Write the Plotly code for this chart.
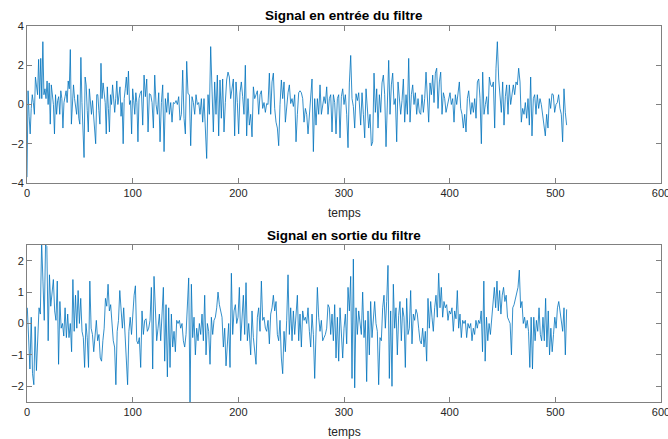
import numpy as np
import plotly.graph_objects as go

# ---- Input signal (top) in 5 consecutive time segments ----
top_seg_start = [0, 107, 211.7, 315.8, 419.9]
top_seg_end = [106, 210.4, 313.9, 418.0, 510.7]
top_seg1 = [-3.7, 0.7, -0.6, -1.5, -0.2, 0.5, 0.1, -0.5, 1.4, 0.9,
            0.5, 2.3, 0.3, 2.35, 0.3, 3.2, 0.5, 0.8, 0.3, 1.2,
            0, 1.1, -1.0, 1.0, 0.4, 0, -1.5, 0.5, -0.5, 0.2,
            0.4, -0.5, 0.7, 0.3, -1.2, 0.1, 0.4, 0.7, 0.1, 1.2,
            0.8, 2.8, -1.0, 0.5, 1.0, 0.3, -0.2, -0.5, 0.5, -0.7,
            -1.0, 2.4, 0.1, -1.0, -2.7, 1.4, 1.0, -0.3, -1.4, 0.8,
            0.1, -0.5, 0.2, -0.4, -1.2, -2.0, 0.5, 0.5, -0.3, -1.0,
            2.1, 0.3, 1.1, 0.5, 0.1, -1.5, 0.9, -0.2, -1.4, 0.5,
            0, 1.0, 0.2, -0.4, 0.3, 1.2, 0.0, 0.4, 0.9, -0.6,
            0.1, -2.0, 0.3, 0.8, 1.4, 0.5, 1.7, 0, 0.2, -1.5,
            0.8, 0.2, -0.5, 0.6, 0.1, -1.9, 0.3]
top_seg2 = [0.55, 0.7, -1.05, 1.5, 0.4, 1.3, -1.4, 0.55, 0.5, 0.1,
            -1.2, 1.5, 0, -0.5, 0.6, -1.9, 0.1, 1.0, -2.4, 0.3,
            -0.4, 0.6, -0.5, 0.1, -0.9, 0.1, 0.05, 0.2, 0, 0.4,
            -0.8, -0.5, 1.75, -0.7, -1.5, 2.2, 0.55, 0.5, -2.1, 0.4,
            0.1, -0.5, 0.5, 0, 0.1, -0.5, 0.3, -0.9, 0.3, -1.6,
            -2.75, 0.5, -0.5, 2.95, 0.1, -1.4, 1.15, -0.5, 1.5, -1.6,
            1.25, -0.7, 1.3, -1.4, 0.1, 1.25, 1.65, 1.4, 0.3, 0.8,
            1.3, -1.6, 1.15, 0.1, -1.5, 0.6, 1.15, 0.4, -0.5, 2.0,
            -1.6, 0.3, -1.05]
top_seg3 = [-0.5, -1.65, 0.9, 0.3, 0.5, 0.7, -0.5, 0.5, 0.7, -0.2,
            0.1, -0.4, 0.05, 0, 1.6, -0.5, 1.15, 1.6, -0.2, -0.9,
            -1.2, -2.1, 0, 1.25, 0.3, 1.15, -0.9, 0.1, 0.6, 1.0,
            0.05, 0.3, -0.1, 0.5, -1.9, -0.5, 0.6, 0.7, 0.6, 0.3,
            -0.9, -0.2, -0.5, -1.5, -0.5, 0, 1.3, -2.4, 0.3, -1.05,
            0.3, -0.5, 1.0, -0.5, 0.1, 0.4, 0.05, 0.9, -0.5, 0.3,
            0.5, -1.4, 0.5, 0.1, -1.5, 0.3, 0.5, -1.7, 0.4, 0.8,
            0, 0.5, -0.5, -2.2, 1.1, 2.5, 0.3, -0.1, -1.2, 0.55,
            0.2, 0.6]
top_seg4 = [-1.05, 0.6, -0.5, -1.7, 0.8, -0.2, -1.2, -0.5, -2.1, -1.9,
            1.6, -0.4, 0.8, -1.2, 0.5, -0.4, 1.1, 1.5, 0.5, -2.15,
            0.1, 2.25, -0.5, 1.0, 1.6, 0, 0.3, -1.9, 1.15, 0.1,
            -0.5, 0.2, 1.3, -0.9, 0.5, -0.5, 2.35, -0.9, 0.5, 1.0,
            0, 0.6, -0.5, 0.3, -0.4, -0.5, 0.5, -0.4, 0.3, 1.65,
            0.05, -0.9, 1.1, 0.5, 1.5, 0.1, 1.6, 1.85, -0.2, 1.15,
            1.65, -0.5, 0.6, 0.3, -0.4, 0, 0.4, 0.6, 0, 0.3,
            -0.9, 0.5, 0, 0.6, 1.15, -0.2, -0.5, -1.2, -0.5, -1.4,
            0.3, 0.7]
top_seg5 = [-0.5, 0.1, -0.4, 0.3, -0.7, 1.15, 1.3, 0.3, -2.0, 1.65,
            -0.5, 0, 0.4, -0.5, 1.4, 1.0, 0.9, 1.15, -1.2, 1.85,
            3.2, 1.3, 0.5, -0.4, 1.15, -1.05, 0.4, 1.0, -0.5, 1.0,
            0, 0.6, 1.0, 0.5, 1.15, 1.0, 1.85, 1.15, -0.9, -0.2,
            -0.5, 0.1, -0.7, 0.3, -1.05, 1.4, -1.6, 0.3, 0.5, -0.5,
            0.5, -0.2, 0.3, 0, -0.5, -0.9, -1.6, -0.5, -1.2, 0.3,
            -0.2, 0.55, 0.5, -0.4, 0, 0.1, 0.5, -0.2, -0.5, -1.9,
            0.8, -0.4, -1.05]

# ---- Filtered signal (bottom) ----
bot_seg_start = [0.3, 107.6, 211.7, 316.4, 419.9]
bot_seg_end = [106.3, 209.8, 313.9, 418.6, 510.7]
bot_seg1 = [0.5, -0.35, -1.45, 0.2, -1.6, -1.95, -0.1, -1.5, -0.35, 0.5,
            0.3, 2.6, 1.35, 0.1, 2.5, 2.45, -0.55, 1.55, 0.55, 0.9,
            1.4, 0.4, 0.1, 1.35, -1.3, 0.7, -0.15, 0, -0.4, 0.5,
            -0.45, 0.3, -0.45, 0, -0.9, 1.4, -0.25, 0.9, -0.15, 1.05,
            0, 0.8, -0.25, -0.45, -1.4, 0, -0.45, -1.4, 1.35, -0.15,
            -0.35, -0.9, -0.25, 0.1, -0.55, -0.35, -1.1, -1.2, -0.55, -0.15,
            0.8, 0.55, 1.25, 0.4, 0.6, 0, -0.55, -0.75, -1.95, -0.25,
            0.1, 1.05, 0.5, -0.15, 0.5, -0.45, -1.1, -1.95, -0.25, 0.2,
            -0.35, 0.5, 0.9, 1.2, -0.55, -0.65, -0.45]
bot_seg2 = [-1.4, 0.4, -0.35, 0.1, 0.15, -0.25, -0.15, 0.1, 1.15, -1.45,
            1.5, 0.1, -0.55, -0.15, 0.3, -0.55, 0.2, 1.15, -1.2, 0.6,
            -1.7, 0.5, -1.4, 0.3, -0.75, -0.25, -0.9, 0.1, 0, 0.1,
            -0.15, 0, -0.55, -0.75, -0.35, 0.5, 1.45, -2.6, 1.25, -0.45,
            0.2, -1.0, -0.15, -0.55, 0, -0.35, 0.3, -0.55, 0.9, -1.0,
            0, -0.25, -1.3, 0.2, -0.35, 0.1, 0.2, 0.5, 1.0, 0.6,
            0.4, 0.2, -0.75, -0.15, -1.35, -0.55, 0, -1.4, 1.6, -0.35,
            0.4, 0.6, 0, 0.2, 1.15, -0.55, 0.4, 0.9, -0.35, 1.3,
            -0.55, 0]
bot_seg3 = [-1.0, 0.4, -0.45, -1.0, -1.3, 0.2, 0.5, -0.25, 1.35, 0.1,
            0.2, -0.15, -0.25, 0.1, -0.65, 0.3, 0.5, 0.9, 0.4, 0.7,
            -0.35, -0.55, 0.1, -1.1, -1.6, -0.25, -0.9, 0.1, 1.55, -0.35,
            0.5, -0.55, 0.4, -0.35, 0.2, 0.9, -0.55, 0.3, -0.75, 0.4,
            0.1, 0.2, 0, 0.5, -0.25, -0.75, 0.3, -0.35, -1.75, 0.2,
            1.15, 0.2, -0.25, 0.1, -0.55, -0.45, -0.35, -0.15, 0.6, 0.5,
            -0.35, 0.3, -0.55, 0.6, -1.1, 0.2, -1.2, 0.5, -0.25, -1.1,
            -0.15, 0.3, -0.65, 1.15, 0.4, 1.5, -1.75, 2.05, -2.05, 0.5,
            -0.35, 0.4]
bot_seg4 = [-0.35, 1.0, -0.45, 0.1, -1.85, 0.4, -1.0, 0.7, -0.45, 0.2,
            0.7, 0, -0.25, -1.95, -0.45, -0.55, 0.5, 0.9, -0.15, 0.7,
            1.85, -1.75, 0.4, -2.0, 1.25, -0.15, 0.5, -1.0, 0.25, 0.7,
            -0.55, 0.5, 0.2, -1.4, 0.8, -0.35, -0.15, 1.05, -0.65, 0.3,
            0.1, 0.45, 0.3, -0.15, -0.55, -0.65, -0.15, -0.75, -0.25, -1.2,
            0.8, -0.15, 0.7, 0.2, -0.25, 0.5, 0.9, 0.2, 1.6, 0.5,
            1.15, 0.2, 0.7, 0.5, 0.6, 0.1, 0.4, 0.3, 0.5, -0.25,
            0.4, 0.15, 1.05, -0.15, 0.3, -0.45, 0.1, 0, 0.1, -0.45,
            0, -0.15]
bot_seg5 = [0, -0.55, -0.15, -0.35, 0.1, -0.15, 0.1, 0, 0.4, -0.9,
            1.35, -1.2, 0.2, -0.55, 0, -0.35, 0.2, 0.7, 1.15, 0.5,
            1.35, 0.4, 1.05, 0.3, 0.9, 1.15, 0.7, 0.9, 0.2, 0.1,
            0, -1.0, 0.5, 0.6, 0.8, 1.05, 1.15, 1.7, 0.5, 0.7,
            0, 0.2, -0.15, 0.1, -0.25, -1.4, 0.2, -1.45, 0.2, -0.55,
            0.1, -0.25, 0.5, -0.35, -0.55, 0.2, -0.55, 0.8, -0.75, 0.4,
            -1.0, -0.15, -0.9, -0.35, 0.2, -0.15, 0.5, 0.7, 0.4, 0.1,
            -0.25, 0.5, -1.0, 0.45]

titles = ["Signal en entrée du filtre", "Signal en sortie du filtre"]
xlabel = "temps"
x_ticks = [0, 100, 200, 300, 400, 500, 600]
top_yticks = [-4, -2, 0, 2, 4]
bot_yticks = [-2, -1, 0, 1, 2]


def assemble(segs, starts, ends):
    xs, ys = [], []
    for seg, a, b in zip(segs, starts, ends):
        xs.extend(np.linspace(a, b, len(seg)))
        ys.extend(seg)
    return np.array(xs), np.array(ys)


tx, ty = assemble([top_seg1, top_seg2, top_seg3, top_seg4, top_seg5], top_seg_start, top_seg_end)
bx, by = assemble([bot_seg1, bot_seg2, bot_seg3, bot_seg4, bot_seg5], bot_seg_start, bot_seg_end)

LINE = "#0072BD"
AX = "#808080"
TXT = "#262626"
FONT = "Liberation Sans, Arial, sans-serif"

fig = go.Figure()
fig.add_trace(go.Scatter(x=tx, y=ty, mode="lines", line=dict(color=LINE, width=0.8),
                         xaxis="x", yaxis="y", showlegend=False, hoverinfo="skip"))
fig.add_trace(go.Scatter(x=bx, y=by, mode="lines", line=dict(color=LINE, width=0.8),
                         xaxis="x2", yaxis="y2", showlegend=False, hoverinfo="skip"))

axis_common = dict(showline=True, linecolor=AX, linewidth=1, mirror="ticks",
                   ticks="inside", ticklen=5, tickcolor=AX, tickwidth=1,
                   showgrid=False, zeroline=False, automargin=False,
                   tickfont=dict(family=FONT, size=11, color=TXT))

fig.update_layout(
    width=668, height=439,
    margin=dict(l=27, r=7, t=26, b=37),
    paper_bgcolor="white", plot_bgcolor="white",
    xaxis=dict(domain=[0, 1], anchor="y", range=[0, 600], tickvals=x_ticks,
               ticklabeloverflow="allow", **axis_common),
    yaxis=dict(domain=[0.5824, 1.0], anchor="x", range=[-4, 4], tickvals=top_yticks, **axis_common),
    xaxis2=dict(domain=[0, 1], anchor="y2", range=[0, 600], tickvals=x_ticks,
                ticklabeloverflow="allow", **axis_common),
    yaxis2=dict(domain=[0.0, 0.4176], anchor="x2", range=[-2.5, 2.5], tickvals=bot_yticks, **axis_common),
    annotations=[
        dict(text="<b>%s</b>" % titles[0], x=0.5, y=1.029, xref="paper", yref="paper",
             showarrow=False, font=dict(family=FONT, size=13.5, color="black"),
             xanchor="center", yanchor="middle"),
        dict(text="<b>%s</b>" % titles[1], x=0.5, y=0.444, xref="paper", yref="paper",
             showarrow=False, font=dict(family=FONT, size=13.5, color="black"),
             xanchor="center", yanchor="middle"),
        dict(text=xlabel, x=0.5, y=0.503, xref="paper", yref="paper",
             showarrow=False, font=dict(family=FONT, size=12, color=TXT),
             xanchor="center", yanchor="middle"),
        dict(text=xlabel, x=0.5, y=-0.08, xref="paper", yref="paper",
             showarrow=False, font=dict(family=FONT, size=12, color=TXT),
             xanchor="center", yanchor="middle"),
    ],
)

fig.write_html("out.html")
